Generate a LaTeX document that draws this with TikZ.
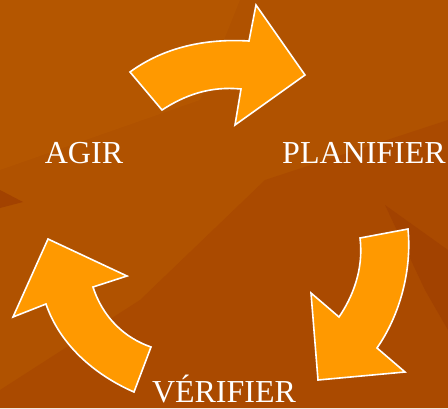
\documentclass[tikz,border=0pt]{standalone}
\usepackage{fontspec}
\setmainfont{Liberation Serif}
\definecolor{bgbrown}{HTML}{B05200}
\definecolor{bgdark}{HTML}{AA4A00}
\definecolor{bgdeep}{HTML}{A24200}
\definecolor{bglight}{HTML}{B45600}
\definecolor{arrowfill}{HTML}{FF9900}
\tikzset{
  label/.style={text=white, font=\fontsize{32}{32}\selectfont, anchor=base, inner sep=0pt},
  outline/.style={draw=white, line width=1.6pt, line join=miter}
}
\begin{document}
\begin{tikzpicture}[x=1pt,y=-1pt]
\def\toparrow{(130,72) .. controls (160,50) and (200,38) .. (249,41) -- (256,5) -- (305,75) -- (235,125) -- (241,89) .. controls (210,86) and (185,95) .. (162,110) -- cycle}
\def\rightarrow{(360,238) -- (408,229) .. controls (412,270) and (400,315) .. (377,348) -- (405,372) -- (318,380) -- (311,293) -- (339,317) .. controls (352,298) and (364,270) .. (360,238) -- cycle}
\def\leftarrow{(48,239) -- (127,276) -- (93,287) .. controls (103,318) and (125,338) .. (151,347) -- (134,392) .. controls (95,375) and (60,345) .. (46,304) -- (13,317) -- cycle}

% background
\fill[bgbrown] (0,0) rectangle (448,408);
\fill[bglight] (0,0) -- (240,0) -- (200,100) -- (0,170) -- cycle;
\fill[bgdark] (448,120) -- (265,180) -- (140,300) -- (0,390) -- (0,408) -- (448,408) -- cycle;
\fill[bgdeep] (385,205) -- (448,250) -- (448,330) -- (425,290) -- cycle;
\fill[bgdeep] (0,190) -- (23,202) -- (0,208) -- cycle;

% arrows
\fill[arrowfill] \toparrow;
\draw[outline] \toparrow;
\fill[arrowfill] \rightarrow;
\draw[outline] \rightarrow;
\fill[arrowfill] \leftarrow;
\draw[outline] \leftarrow;

\node[label] (agir) at (84,163) {AGIR};
\node[label] (planifier) at (364,163) {PLANIFIER};
\node[label] (verifier) at (224,402) {VÉRIFIER};
\end{tikzpicture}
\end{document}
